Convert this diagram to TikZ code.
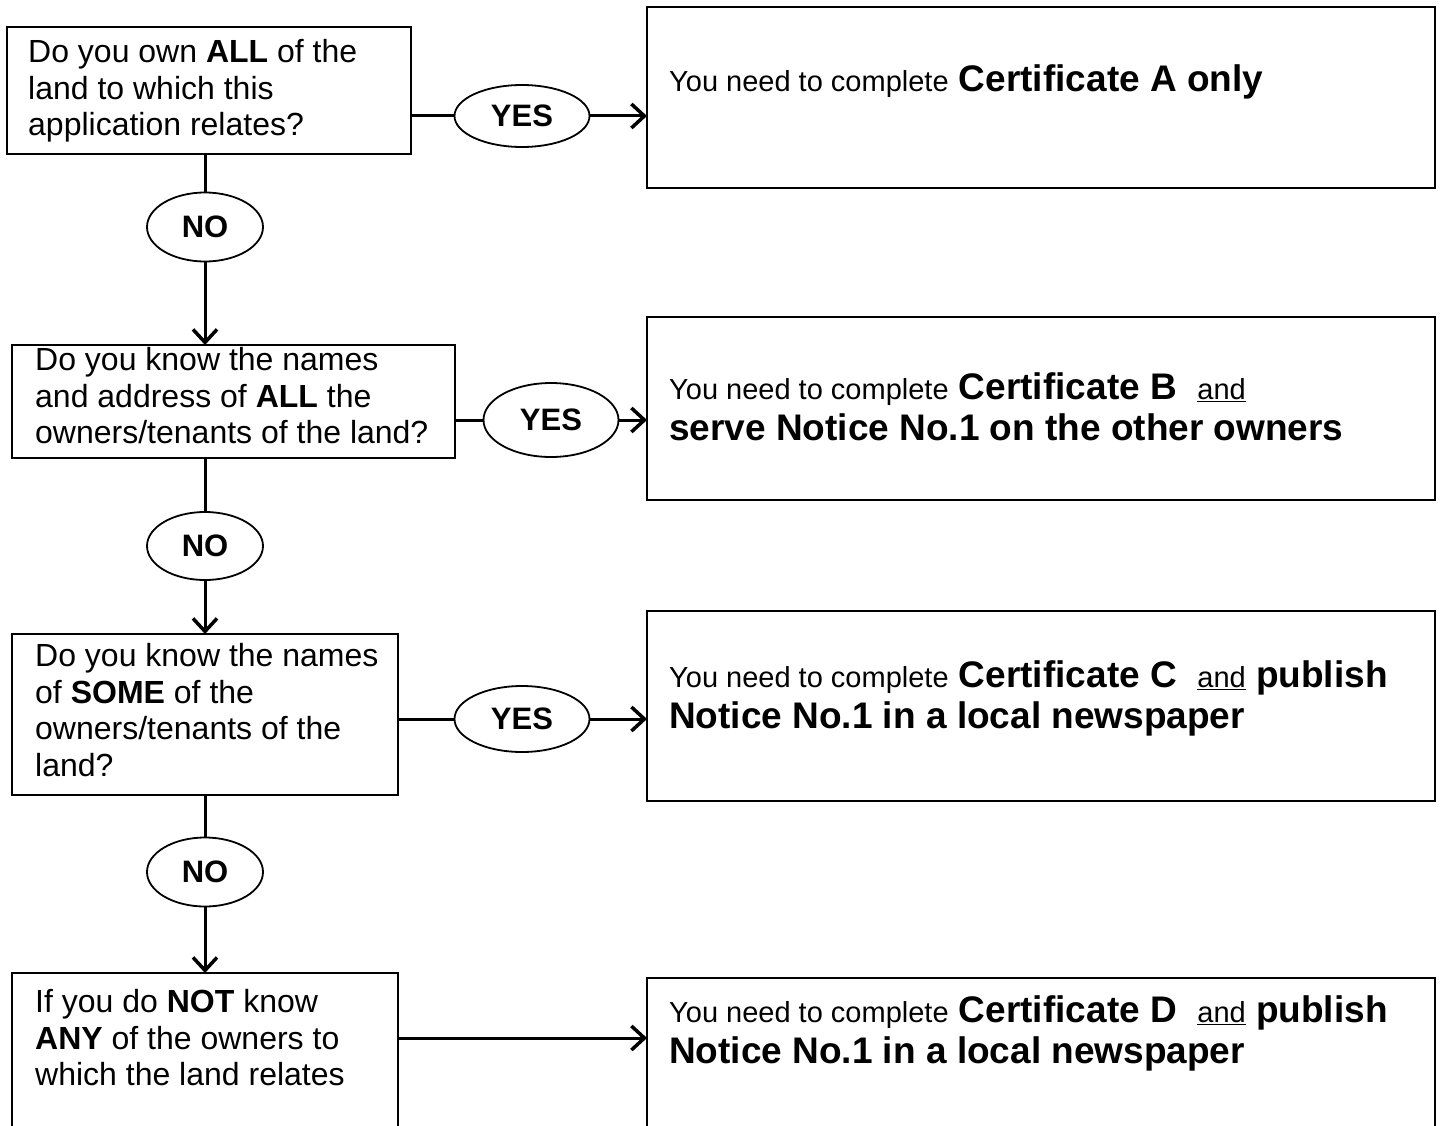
\documentclass[tikz,border=0pt]{standalone}
\usepackage{fontspec}
\setmainfont{Liberation Sans}
\usetikzlibrary{shapes.geometric,arrows.meta}
\newcommand{\plaintxt}[1]{{\mdseries\fontsize{29}{41}\selectfont #1}}

\begin{document}
\begin{tikzpicture}[x=1pt,y=-1pt,
    box/.style={draw,line width=2.5pt,rectangle,anchor=north west,inner sep=0pt,outer sep=0pt},
    qtext/.style={anchor=west,align=left,inner sep=0pt,font=\fontsize{32}{36.5}\selectfont},
    atext/.style={anchor=west,align=left,inner sep=0pt,font=\fontsize{37}{41}\selectfont\bfseries},
    answer/.style={draw,ellipse,line width=1.8pt,inner sep=0pt,outer sep=0pt,font=\fontsize{31}{34}\selectfont\bfseries},
    link/.style={line width=3pt},
    flow/.style={line width=3pt,-{Straight Barb[length=13pt,width=24pt,line width=3.5pt]}}]
        \useasboundingbox (0,0) rectangle (1442,1126);
        \node[box,minimum width=404pt,minimum height=127pt](q1) at(7,27){};
        \node[box,minimum width=443pt,minimum height=113pt](q2) at(12,345){};
        \node[box,minimum width=386pt,minimum height=161pt](q3) at(12,634){};
        \node[box,minimum width=386pt,minimum height=220pt](q4) at(12,973){};
        \node[box,minimum width=788pt,minimum height=181pt](a1) at(647,7){};
        \node[box,minimum width=788pt,minimum height=183pt](a2) at(647,317){};
        \node[box,minimum width=788pt,minimum height=190pt](a3) at(647,611){};
        \node[box,minimum width=788pt,minimum height=220pt](a4) at(647,978){};
        \node[qtext](qt1) at(28,91){Do you own \textbf{ALL} of the\\land to which this\\application relates?};
        \node[qtext](qt2) at(35,396){Do you know the names\\and address of \textbf{ALL} the\\owners/tenants of the land?};
        \node[qtext](qt3) at(35,710){Do you know the names\\of \textbf{SOME} of the\\owners/tenants of the\\land?};
        \node[qtext](qt4) at(35,1038){If you do \textbf{NOT} know\\\textbf{ANY} of the owners to\\which the land relates};
        \node[atext](at1) at(669,82){\plaintxt{You need to complete} Certificate A only};
        \node[atext](at2) at(669,407){\plaintxt{You need to complete} Certificate B\ \ \plaintxt{\underline{and}}\\serve Notice No.1 on the other owners};
        \node[atext](at3) at(669,698){\plaintxt{You need to complete} Certificate C\ \ \plaintxt{\underline{and}} publish\\Notice No.1 in a local newspaper};
        \node[atext](at4) at(669,1033){\plaintxt{You need to complete} Certificate D\ \ \plaintxt{\underline{and}} publish\\Notice No.1 in a local newspaper};
        \node[answer,minimum width=135pt,minimum height=62pt](y1) at(522,116){YES};
        \node[answer,minimum width=135pt,minimum height=74pt](y2) at(551,420){YES};
        \node[answer,minimum width=135pt,minimum height=66pt](y3) at(522,719){YES};
        \node[answer,minimum width=116pt,minimum height=69pt](n1) at(205,227){NO};
        \node[answer,minimum width=116pt,minimum height=68pt](n2) at(205,546){NO};
        \node[answer,minimum width=116pt,minimum height=69pt](n3) at(205,872){NO};
        \draw[link](q1.east |- y1.west) -- (y1.west);
            \draw[flow](y1.east) -- (y1.east -| a1.west);
        \draw[link](q2.east |- y2.west) -- (y2.west);
            \draw[flow](y2.east) -- (y2.east -| a2.west);
        \draw[link](q3.east |- y3.west) -- (y3.west);
            \draw[flow](y3.east) -- (y3.east -| a3.west);
        \draw[flow](q4.east |- qt4.west) -- (qt4.west -| a4.west);
        \draw[link](n1.north |- q1.south) -- (n1.north);
            \draw[flow](n1.south) -- (n1.south |- q2.north);
        \draw[link](n2.north |- q2.south) -- (n2.north);
            \draw[flow](n2.south) -- (n2.south |- q3.north);
        \draw[link](n3.north |- q3.south) -- (n3.north);
            \draw[flow](n3.south) -- (n3.south |- q4.north);
\end{tikzpicture}
\end{document}
